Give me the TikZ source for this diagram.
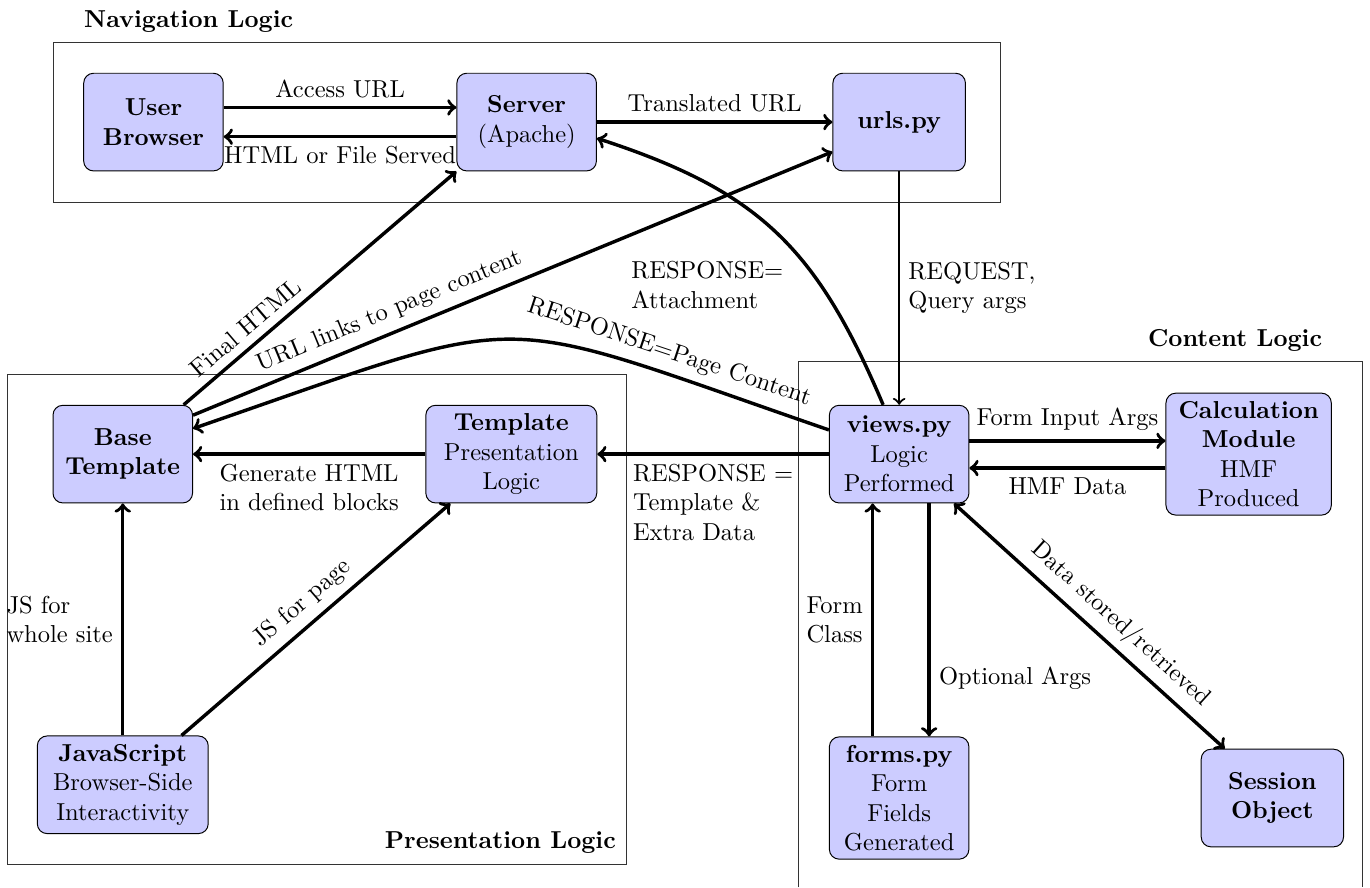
\documentclass[tikz,border=0pt]{standalone}
\usetikzlibrary{shapes,arrows}
\pgfdeclarelayer{background}
\pgfsetlayers{background,main}
\tikzstyle{block}=[draw, fill=blue!20, align=center, rounded corners,
    minimum width=2cm, minimum height=1.4cm]
\tikzstyle{wideblock}=[block, minimum width=2.45cm]
\tikzstyle{group}=[draw=black!80]
\tikzstyle{link}=[draw, line width=1.4pt]

\begin{document}
\begin{tikzpicture}
    \useasboundingbox (0,0) rectangle (19.64,-12.72);
    \coordinate (bot) at (0,-12.72);

    \node (ub)[block] at (2.20,-1.75) {\textbf{User}\\\textbf{Browser}};
    \path (ub)+(5.35,0) node (srv)[block] {\textbf{Server}\\(Apache)};
    \path (srv)+(5.34,0) node (urls)[block, minimum width=1.9cm] {\textbf{urls.py}};
    \path (urls)+(0,-4.76) node (vw)[block] {\textbf{views.py}\\Logic\\Performed};
    \path (vw)+(5.01,0) node (calc)[block, minimum width=2.37cm]
        {\textbf{Calculation}\\\textbf{Module}\\HMF\\Produced};
    \path (vw)+(-5.56,0) node (tm)[wideblock] {\textbf{Template}\\Presentation\\Logic};
    \path (tm)+(-5.57,0) node (bt)[block] {\textbf{Base}\\\textbf{Template}};
    \path (bt)+(0,-4.74) node (js)[wideblock]
        {\textbf{JavaScript}\\Browser-Side\\Interactivity};
    \path (vw)+(0,-4.93) node (fm)[block] {\textbf{forms.py}\\Form\\Fields\\Generated};
    \path (fm)+(5.35,0) node (so)[block, minimum width=2.04cm] {\textbf{Session}\\\textbf{Object}};

    \begin{pgfonlayer}{background}
        \path (ub.west |- ub.north)+(-0.43,0.43) coordinate (a);
        \path (urls.east |- urls.south)+(0.49,-0.45) coordinate (c);
        \path[group] (a) rectangle (c);
        \path (a)+(0.32,0.30) node (navtitle)[anchor=west] {\textbf{Navigation Logic}};

        \path (bt.west |- bt.north)+(-0.65,0.43) coordinate (a2);
        \path (tm.east |- js.south)+(0.42,-0.44) coordinate (c2);
        \path[group] (a2) rectangle (c2);
        \path (c2)+(-0.03,0.32) node (prestitle)[anchor=east] {\textbf{Presentation Logic}};

        \path (vw.west |- calc.north)+(-0.43,0.445) coordinate (a3);
        \path (so.east |- calc.north)+(0.27,0.445) coordinate (c3);
        \path[group] (a3 |- bot) -- (a3) -- (c3) -- (c3 |- bot);
        \path (c3)+(-0.46,0.30) node (conttitle)[anchor=east] {\textbf{Content Logic}};
    \end{pgfonlayer}

    %%% navigation
    \path [link, ->] ([yshift=0.21cm]ub.east) -- ([yshift=0.21cm]srv.west)
        node [midway, above] {Access URL};
    \path [link, ->] ([yshift=-0.21cm]srv.west) -- ([yshift=-0.21cm]ub.east)
        node [midway, below] {HTML or File Served};
    \path [link, ->] (srv.east) -- (urls.west)
        node [midway, above] {Translated URL};
    \path [draw, ->, line width=0.9pt] (urls.south) -- (vw.north)
        node [midway, right, align=left] {REQUEST,\\Query args};

    %%% responses
    \path [link, ->] (vw.108) to[out=113, in=-18, looseness=1.12] (srv.-13);
    \path (vw.north)+(-2.75,1.72) node (lattach)[align=left] {RESPONSE=\\Attachment};
    \path [link, <-] (bt.20) to[out=19, in=161, looseness=1.48]
        node [pos=0.8, sloped, above] {RESPONSE=Page Content} (vw.161);
    \path [link, ->] (vw.west) -- (tm.east)
        node [midway, below, align=left] {RESPONSE =\\Template \&\\Extra Data};
    \path [link, ->] (tm.west) -- (bt.east)
        node [midway, below, align=left] {Generate HTML\\in defined blocks};
    \path [link, ->] (bt.39) -- (srv.south west)
        node [pos=0.27, sloped, above] {Final HTML};
    \path [link, ->] (bt.29) -- (urls.204)
        node [pos=0.32, sloped, above] {URL links to page content};

    %%% javascript
    \path [link, ->] (js.north) -- (bt.south)
        node [midway, left, align=left] {JS for\\whole site};
    \path [link, ->] (js.40) -- (tm.219)
        node [midway, sloped, above] {JS for page};

    %%% content
    \path [link, ->] ([yshift=0.19cm]vw.east) -- ([yshift=0.19cm]calc.west)
        node [midway, above] {Form Input Args};
    \path [link, ->] ([yshift=-0.2cm]calc.west) -- ([yshift=-0.2cm]vw.east)
        node [midway, below] {HMF Data};
    \path [link, ->] ([xshift=-0.38cm]fm.north) -- ([xshift=-0.38cm]vw.south)
        node [midway, left, align=left] {Form\\Class};
    \path [link, ->] ([xshift=0.43cm]vw.south) -- ([xshift=0.43cm]fm.north)
        node [pos=0.75, right] {Optional Args};
    \path [link, <->] (vw.-42) -- (so.134)
        node [pos=0.56, sloped, above] {Data stored/retrieved};

\end{tikzpicture}
\end{document}
